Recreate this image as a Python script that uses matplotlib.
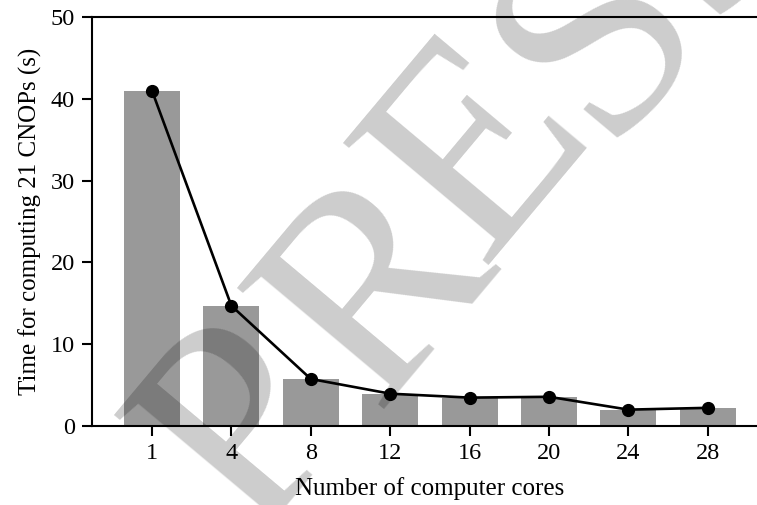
import matplotlib
matplotlib.use("Agg")
import matplotlib.pyplot as plt
import numpy as np

# Core counts and measured runtimes
cores = ["1", "4", "8", "12", "16", "20", "24", "28"]
times = [41.0, 14.7, 5.75, 3.95, 3.47, 3.57, 2.0, 2.22]
yticks = [0, 10, 20, 30, 40, 50]

plt.rcParams["font.family"] = ["Liberation Serif", "DejaVu Serif"]

W, H = 757, 505
fig = plt.figure(figsize=(W / 100, H / 100), dpi=100)
ax = fig.add_axes([92.4 / W, 79 / H, 675 / W, 409 / H])

x = np.arange(len(cores))
ax.bar(x, times, width=0.705, color="#999999", zorder=2)
ax.plot(x, times, color="black", lw=1.9, marker="o", ms=8.5, zorder=3)

ax.set_xlim(-0.75, 7.75)
ax.set_ylim(0, 50)
ax.set_xticks(x)
ax.set_xticklabels(cores)
ax.set_yticks(yticks)

for s in ("left", "bottom", "top"):
    ax.spines[s].set_linewidth(1.5)
ax.spines["right"].set_visible(False)
ax.tick_params(axis="both", direction="out", length=7.5, width=1.5,
               labelsize=17.5, pad=5)

ax.set_xlabel("Number of computer cores", fontsize=18, labelpad=9)
ax.set_ylabel("Time for computing 21 CNOPs (s)", fontsize=18, labelpad=6)

# Diagonal watermark: letters laid out along a rotated baseline
angle = 50.0
rad = np.radians(angle)
origin = np.array([252.0, 537.0])            # baseline start, pixels from top-left
along = np.array([np.cos(rad), -np.sin(rad)])  # baseline direction
up = np.array([-np.sin(rad), -np.cos(rad)])    # glyph "up" direction
letters = ["P", "R", "E", "S", "S"]
advance = [0, 176, 355, 528, 689]             # distance along the baseline, pixels
lift = [0, -12, 0, -15, -15]                  # offset across the baseline, pixels
for ch, d, h in zip(letters, advance, lift):
    px, py = origin + d * along + h * up
    fig.text(px / W, 1 - py / H, ch, fontsize=209, rotation=angle,
             rotation_mode="anchor", color="black", alpha=0.2,
             ha="left", va="baseline", family="Liberation Serif", zorder=10)

fig.savefig("out.png", dpi=100)
